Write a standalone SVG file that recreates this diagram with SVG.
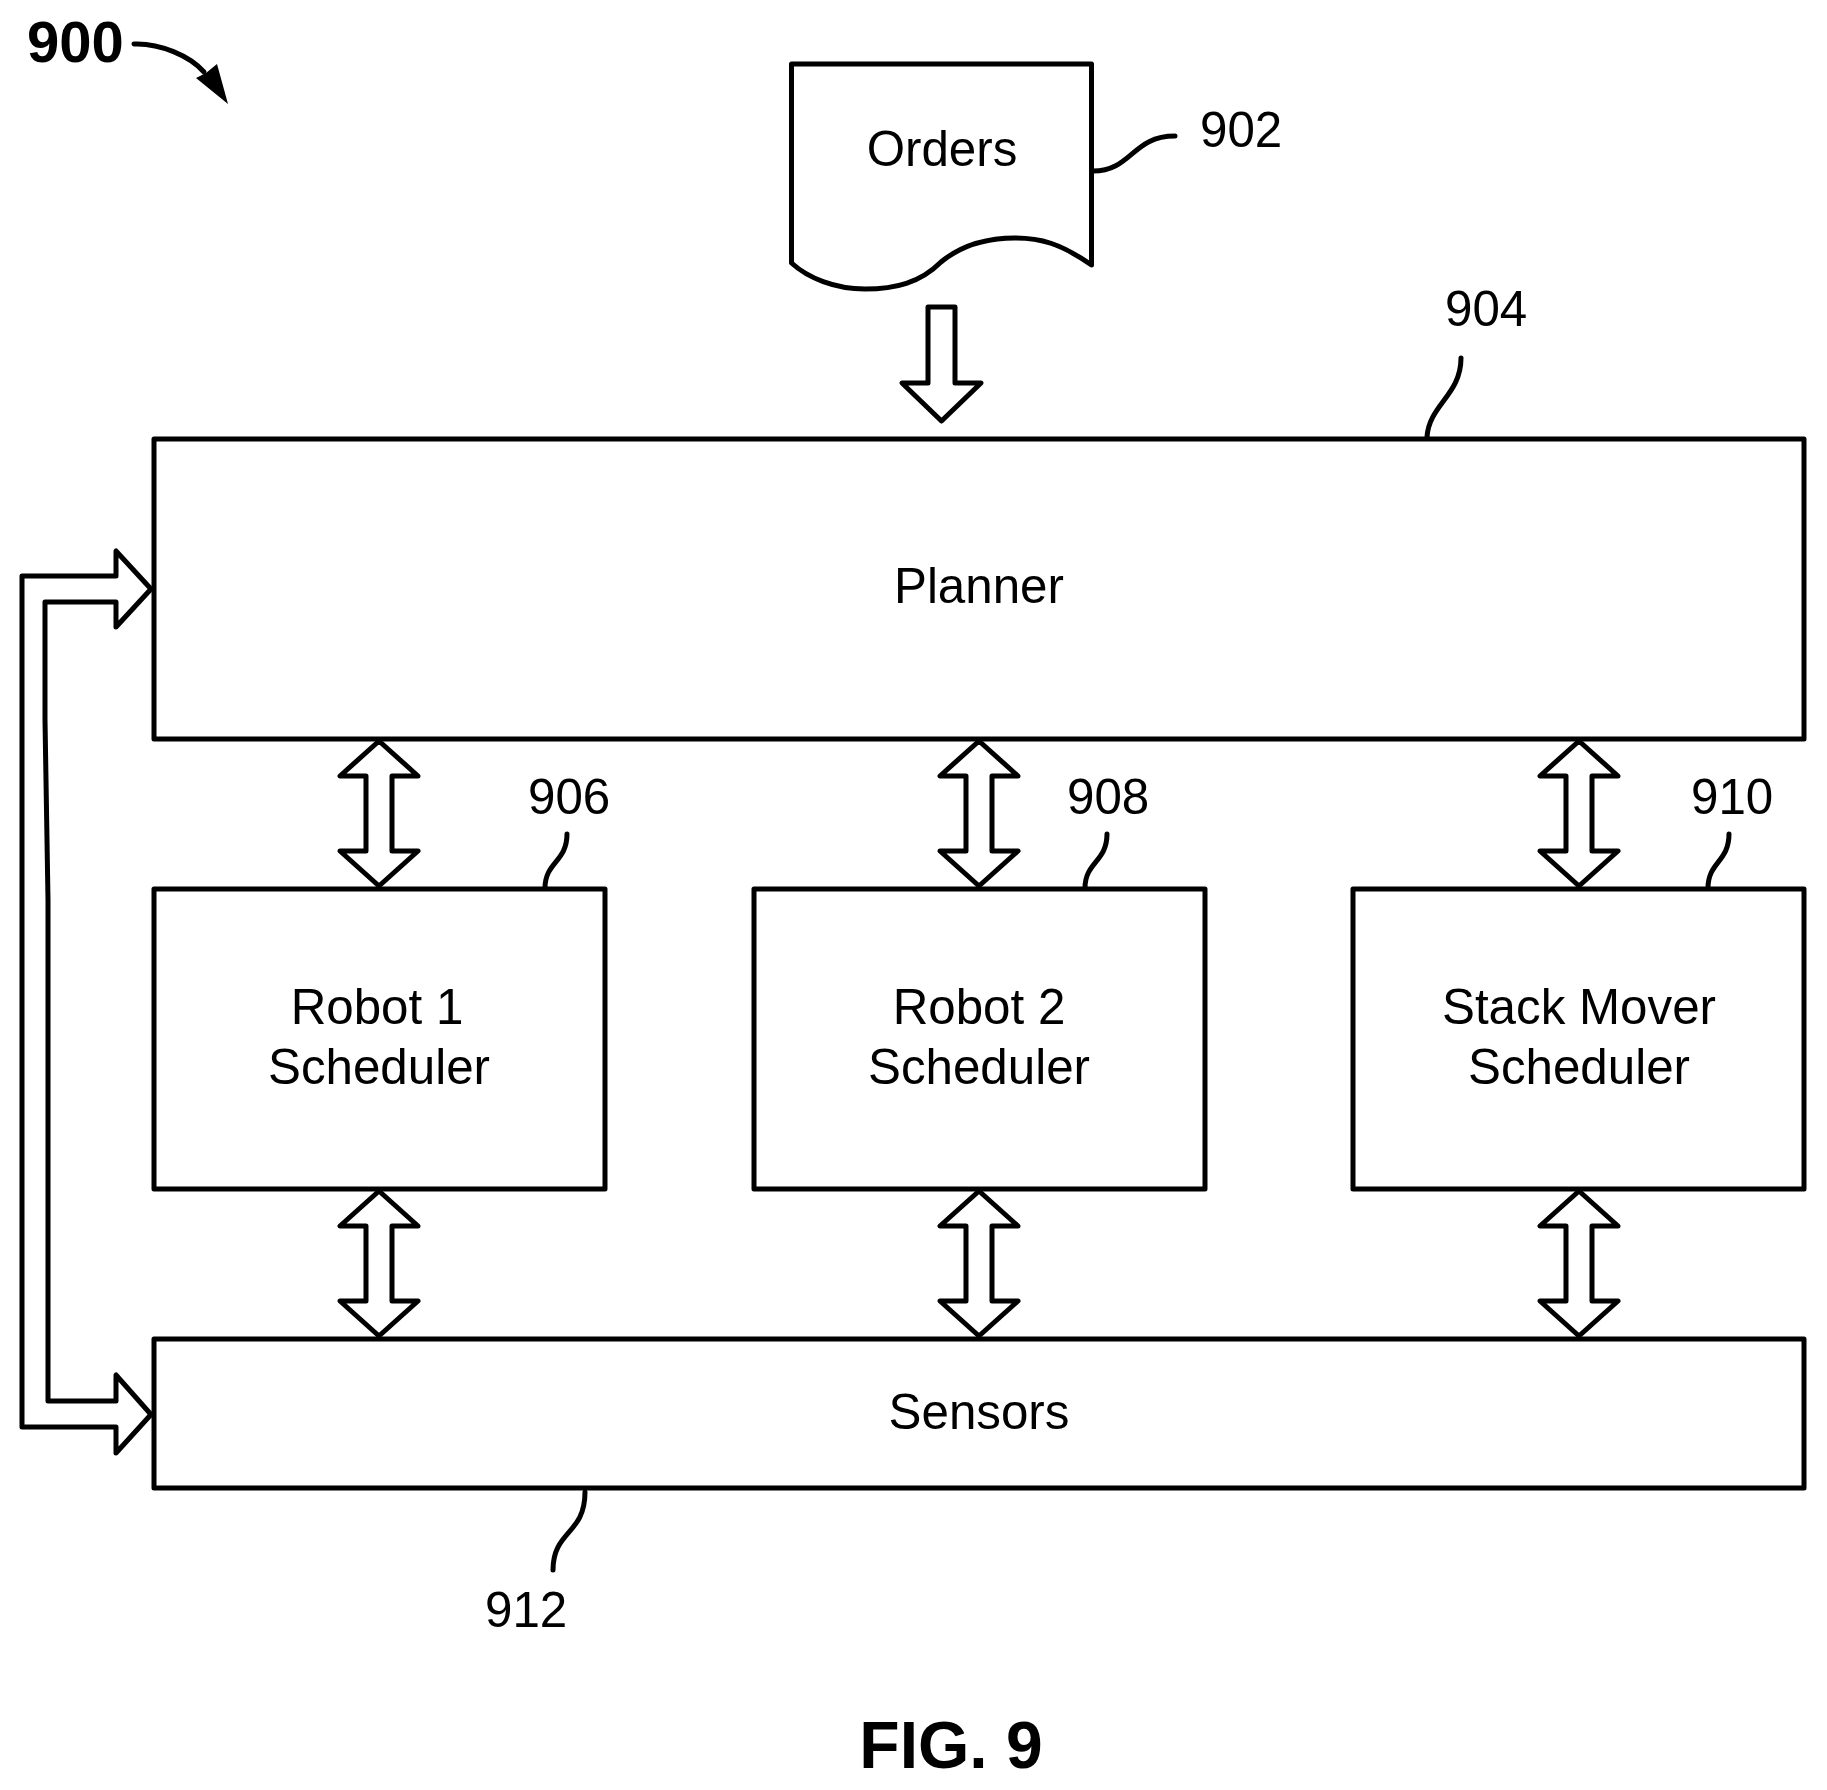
<svg xmlns="http://www.w3.org/2000/svg" width="1827" height="1790" viewBox="0 0 1827 1790">
<defs>
<style>
.box{fill:#fff;stroke:#000;stroke-width:5;stroke-linejoin:round}
.arrow{fill:#fff;stroke:#000;stroke-width:5;stroke-linejoin:round}
.lead{fill:none;stroke:#000;stroke-width:5;stroke-linecap:round}
text{font-family:"Liberation Sans",Arial,sans-serif;fill:#000}
.t{font-size:49.3px;text-anchor:middle}
.n{font-size:49.3px}
.b{font-weight:bold}
</style>
<path id="dbl" class="arrow" d="M0 0 L-39 35 H-13 V110 H-39 L0 145 L39 110 H13 V35 H39 Z"/>
</defs>
<rect width="1827" height="1790" fill="#fff"/>
<g id="connectors">
<use href="#dbl" x="379" y="741"/>
<use href="#dbl" x="979" y="741"/>
<use href="#dbl" x="1579" y="741"/>
<use href="#dbl" x="379" y="1191"/>
<use href="#dbl" x="979" y="1191"/>
<use href="#dbl" x="1579" y="1191"/>
<path id="orders-to-planner" class="arrow" d="M928 307 H955 V383 H981 L941.5 421 L902 383 H928 Z"/>
<path id="planner-sensors" class="arrow" d="M151 589 L116 551 V576 H22 V1427 H116 V1453 L151 1414.5 L116 1375 V1401 H48 V900 L45 720 V602 H116 V627 Z"/>
<path class="lead" d="M134 44 C160 43 190 56 204 72"/>
<path fill="#000" d="M217 64 L228 104 L196 78 L206 73 Z"/>
<path class="lead" d="M1093 171 C1132 171 1132 136 1175 136"/>
<path class="lead" d="M1427 437 C1429 405 1461 395 1461 358"/>
<path class="lead" d="M545 888 C545 862 567 862 567 834"/>
<path class="lead" d="M1085 888 C1085 862 1107 862 1107 834"/>
<path class="lead" d="M1708 888 C1708 862 1729 862 1729 834"/>
<path class="lead" d="M585 1492 C585 1535 553 1530 553 1570"/>
</g>
<g id="orders">
<path class="box" d="M791.5 64 H1091.5 V265 C1060 243 1040 238 1015 238 C980 238 958 248 941 262 C920 283 895 289 865 289 C835 289 808 278 791.5 263 Z"/>
<text class="t" x="942" y="166">Orders</text>
</g>
<g id="planner">
<rect class="box" x="154" y="439" width="1650" height="300"/>
<text class="t" x="979" y="603">Planner</text>
</g>
<g id="robot1">
<rect class="box" x="154" y="889" width="451" height="300"/>
<text class="t" x="377" y="1024">Robot 1</text>
<text class="t" x="379" y="1084">Scheduler</text>
</g>
<g id="robot2">
<rect class="box" x="754" y="889" width="451" height="300"/>
<text class="t" x="979" y="1024">Robot 2</text>
<text class="t" x="979" y="1084">Scheduler</text>
</g>
<g id="stack-mover">
<rect class="box" x="1353" y="889" width="451" height="300"/>
<text class="t" x="1579" y="1024">Stack Mover</text>
<text class="t" x="1579" y="1084">Scheduler</text>
</g>
<g id="sensors">
<rect class="box" x="154" y="1339" width="1650" height="149"/>
<text class="t" x="979" y="1429">Sensors</text>
</g>
<g id="labels">
<text class="n b" x="27" y="62" style="font-size:58px">900</text>
<text class="n" x="1200" y="147">902</text>
<text class="n" x="1445" y="326">904</text>
<text class="n" x="528" y="814">906</text>
<text class="n" x="1067" y="814">908</text>
<text class="n" x="1691" y="814">910</text>
<text class="n" x="485" y="1627">912</text>
<text class="b" x="951" y="1768" style="font-size:66px;text-anchor:middle">FIG. 9</text>
</g>
</svg>
